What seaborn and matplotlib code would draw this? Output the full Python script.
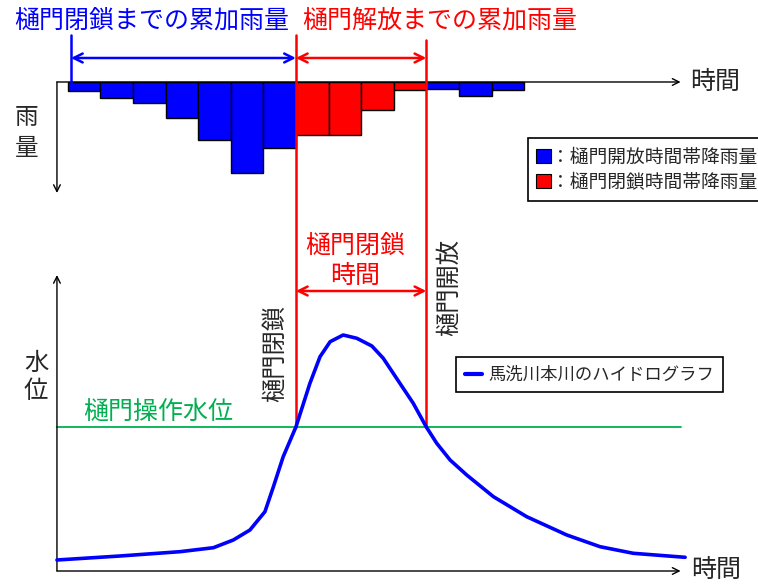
import matplotlib
matplotlib.use("Agg")
import matplotlib.pyplot as plt
import seaborn as sns
from matplotlib.patches import Patch
from matplotlib.lines import Line2D

# ---------------- data ----------------
rain_step = list(range(14))  # hourly steps (bar index)
rain_mm = [3.1, 5.3, 6.9, 11.9, 19.2, 30.3, 21.9, 17.6, 17.6, 9.4, 2.8, 2.2, 4.7, 2.6]
rain_start_t = 0.1
gate_close_t = 7.0
gate_open_t = 11.0
op_level = 14.4

hydro_t = [-0.33, 1.60, 3.44, 4.47, 5.08, 5.59, 6.05, 6.31, 6.61, 7.0, 7.43,
           7.74, 8.05, 8.45, 8.87, 9.33, 9.68, 10.19, 10.60, 11.0, 11.32,
           11.73, 12.24, 13.06, 14.08, 15.31, 16.33, 17.35, 18.94]
hydro_level = [1.10, 1.50, 1.93, 2.33, 3.10, 4.10, 5.93, 8.43, 11.43, 14.4, 18.77,
               21.43, 22.93, 23.6, 23.27, 22.5, 21.27, 18.77, 16.77, 14.4, 12.77,
               11.1, 9.6, 7.43, 5.43, 3.6, 2.43, 1.77, 1.37]

legend_rain_labels = ["：樋門開放時間帯降雨量", "：樋門閉鎖時間帯降雨量"]
legend_hydro_label = "馬洗川本川のハイドログラフ"

# ---------------- style ----------------
sns.set_theme(style="white")
plt.rcParams['font.family'] = ['Noto Sans CJK JP', 'DejaVu Sans']

W, H = 758, 587
fig = plt.figure(figsize=(W / 100, H / 100), dpi=100)
fig.patch.set_facecolor('white')

def fx(x):
    return x / W

def fy(y):
    return 1 - y / H

BLUE = '#0000FF'
RED = '#FF0000'
GREEN = '#00B050'

t_left, t_right = -2.077, 21.175
axis_t0, axis_t1 = -0.33, 18.8

# top: rainfall axes (inverted)
ax_top = fig.add_axes([0, 0, 1, 1])
ax_top.set_xlim(t_left, t_right)
ax_top.set_ylim(168.33, -27.33)
ax_top.axis('off')
ax_top.patch.set_alpha(0)

# bottom: water level axes
ax_bot = fig.add_axes([0, 0, 1, 1])
ax_bot.set_xlim(t_left, t_right)
ax_bot.set_ylim(-1.6, 57.1)
ax_bot.axis('off')
ax_bot.patch.set_alpha(0)

# rainfall bars
bar_colors = [RED if gate_close_t <= s < gate_open_t else BLUE for s in rain_step]
ax_top.bar(rain_step, rain_mm, width=1.0, bottom=0, align='edge',
           color=bar_colors, edgecolor='black', linewidth=1.0, zorder=3)

def arrow(ax, x0, y0, x1, y1, style='->', color='black', lw=1.0, ms=12):
    ax.annotate('', xy=(x1, y1), xytext=(x0, y0),
                arrowprops=dict(arrowstyle=style, color=color, lw=lw,
                                shrinkA=0, shrinkB=0, mutation_scale=ms))

# top axes lines
arrow(ax_top, axis_t0, 0, axis_t1, 0, lw=1.0)
arrow(ax_top, axis_t0, 0, axis_t0, 37, lw=1.0)

# blue line + arrows
ax_top.plot([rain_start_t, rain_start_t], [-15.7, 0], color=BLUE, lw=1.8, zorder=4)
arrow(ax_top, rain_start_t, -8, gate_close_t, -8, style='<->', color=BLUE, lw=1.8, ms=16)
arrow(ax_top, gate_close_t, -8, gate_open_t, -8, style='<->', color=RED, lw=1.8, ms=16)

# bottom axes
arrow(ax_bot, axis_t0, 0, axis_t1, 0, lw=1.0)
arrow(ax_bot, axis_t0, 0, axis_t0, 29.6, lw=1.0)

# green operating level
ax_bot.plot([axis_t0, axis_t1 + 0.01], [op_level, op_level], color=GREEN, lw=1.3, zorder=2)

# red gate lines
ax_bot.plot([gate_close_t, gate_close_t], [op_level, 53.6], color=RED, lw=1.8, zorder=4)
ax_bot.plot([gate_open_t, gate_open_t], [op_level, 53.1], color=RED, lw=1.8, zorder=4)
arrow(ax_bot, gate_close_t, 28.0, gate_open_t, 28.0, style='<->', color=RED, lw=1.8, ms=16)

# hydrograph
sns.lineplot(x=hydro_t, y=hydro_level, ax=ax_bot, color=BLUE, lw=2.6,
             sort=False, estimator=None, zorder=5)
ax_bot.lines[-1].set_solid_joinstyle('round')

# texts
fig.text(fx(14), fy(21), '樋門閉鎖までの累加雨量', color=BLUE, fontsize=18, ha='left', va='center')
fig.text(fx(302), fy(21), '樋門解放までの累加雨量', color=RED, fontsize=18, ha='left', va='center')
fig.text(fx(27), fy(133), '雨\n量', fontsize=17, ha='center', va='center', linespacing=1.45)
fig.text(fx(715), fy(82), '時間', fontsize=18, ha='center', va='center')
fig.text(fx(716), fy(570), '時間', fontsize=18, ha='center', va='center')
fig.text(fx(355), fy(261), '樋門閉鎖\n時間', color=RED, fontsize=18, ha='center', va='center', linespacing=1.2)
fig.text(fx(275), fy(353), '樋門閉鎖', fontsize=17.5, ha='center', va='center', rotation=90)
fig.text(fx(449), fy(288), '樋門開放', fontsize=17.5, ha='center', va='center', rotation=90)
fig.text(fx(36), fy(377), '水\n位', fontsize=17.5, ha='center', va='center', linespacing=1.15)
fig.text(fx(83), fy(412), '樋門操作水位', color=GREEN, fontsize=18, ha='left', va='center')

# legends
h_rain = [Patch(facecolor=BLUE, edgecolor='black', lw=0.8),
          Patch(facecolor=RED, edgecolor='black', lw=0.8)]
leg1 = fig.legend(h_rain, legend_rain_labels, loc='upper left',
                  bbox_to_anchor=(fx(528), fy(138)), borderaxespad=0,
                  fontsize=13.5, frameon=True, fancybox=False, framealpha=1,
                  edgecolor='black', handlelength=0.8, handleheight=0.8,
                  handletextpad=0.0, borderpad=0.45, labelspacing=0.2)
leg1.get_frame().set_linewidth(1.2)

h_hydro = [Line2D([0], [0], color=BLUE, lw=3)]
leg2 = fig.legend(h_hydro, [legend_hydro_label], loc='upper left',
                  bbox_to_anchor=(fx(456), fy(357)), borderaxespad=0,
                  fontsize=12.5, frameon=True, fancybox=False, framealpha=1,
                  edgecolor='black', handlelength=1.0, handletextpad=0.35,
                  borderpad=0.5)
leg2.get_frame().set_linewidth(1.2)

fig.savefig('out.png', dpi=100)
